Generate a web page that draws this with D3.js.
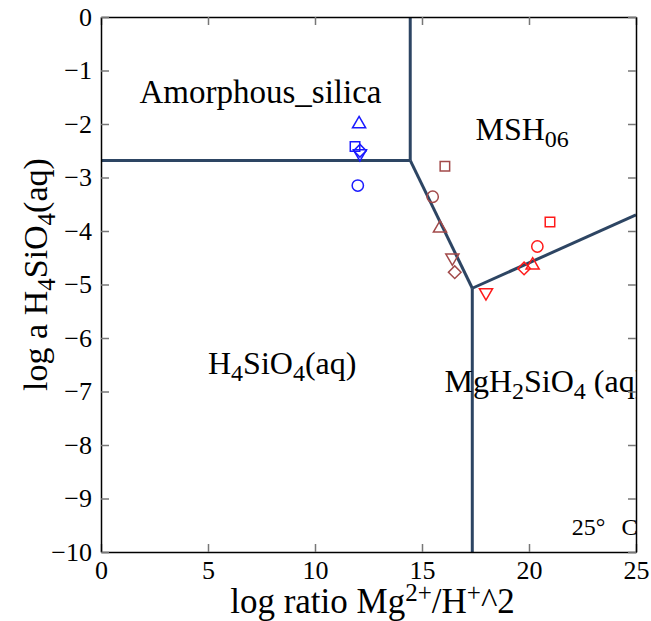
<!DOCTYPE html>
<html lang="en">
<head>
<meta charset="UTF-8">
<script src="https://d3js.org/d3.v7.min.js"></script>
<title>Mg-Si diagram</title>
<style>
  body { margin: 0; background: #fff; }
</style>
</head>
<body>
<div id="chart"></div>
<script>
const width = 651, height = 621;
const margin = { top: 17, right: 15, bottom: 69, left: 101 };
const w = width - margin.left - margin.right, h = height - margin.top - margin.bottom;
const serif = "Liberation Serif";

// field boundaries [x, y]
const boundaries = [
  [[14.45, 0], [14.45, -2.68]],
  [[0, -2.68], [14.45, -2.68]],
  [[14.45, -2.68], [17.35, -5.07]],
  [[17.35, -5.07], [17.35, -10]],
  [[17.35, -5.07], [25, -3.7]]
];

// sample points
const blue = [
  { x: 12.06, y: -2.0, s: "triUp" },
  { x: 11.87, y: -2.42, s: "square" },
  { x: 12.1, y: -2.5, s: "diamond" },
  { x: 12.1, y: -2.55, s: "triDown" },
  { x: 12.0, y: -3.15, s: "circle" }
];
const brown = [
  { x: 16.07, y: -2.79, s: "square" },
  { x: 15.5, y: -3.36, s: "circle" },
  { x: 15.84, y: -3.95, s: "triUp" },
  { x: 16.42, y: -4.5, s: "triDown" },
  { x: 16.53, y: -4.77, s: "diamond" }
];
const red = [
  { x: 20.98, y: -3.83, s: "square" },
  { x: 20.39, y: -4.29, s: "circle" },
  { x: 20.17, y: -4.64, s: "triUp" },
  { x: 19.77, y: -4.7, s: "diamond" },
  { x: 17.99, y: -5.15, s: "triDown" }
];

const xTicks = [0, 5, 10, 15, 20, 25];
const yTicks = [0, -1, -2, -3, -4, -5, -6, -7, -8, -9, -10];

const x = d3.scaleLinear().domain([0, 25]).range([0, w]);
const y = d3.scaleLinear().domain([-10, 0]).range([h, 0]);

const svg = d3.select("#chart").append("svg")
  .attr("width", width).attr("height", height);
const g = svg.append("g").attr("transform", `translate(${margin.left},${margin.top})`);

svg.append("defs").append("clipPath").attr("id", "clip")
  .append("rect").attr("width", w).attr("height", h);

const plot = g.append("g").attr("clip-path", "url(#clip)");

// axes, ticks inward on all sides
const fmt = d => d < 0 ? "\u2212" + Math.abs(d) : d;
const ax = (axis) => axis.tickSizeInner(-8).tickSizeOuter(0).tickPadding(9);
const axes = [
  g.append("g").attr("transform", `translate(0,${h})`)
    .call(ax(d3.axisBottom(x).tickValues(xTicks).tickFormat(fmt))),
  g.append("g").call(ax(d3.axisTop(x).tickValues(xTicks).tickFormat(""))),
  g.append("g").call(ax(d3.axisLeft(y).tickValues(yTicks).tickFormat(fmt))),
  g.append("g").attr("transform", `translate(${w},0)`)
    .call(ax(d3.axisRight(y).tickValues(yTicks).tickFormat("")))
];
axes.forEach(a => {
  a.attr("font-family", serif).attr("font-size", 26);
  a.selectAll("line").attr("stroke", "#777").attr("stroke-width", 1.5);
  a.select(".domain").attr("stroke", "#000").attr("stroke-width", 1.5);
  a.selectAll("text").attr("fill", "#000");
});

// boundary lines
const line = d3.line().x(d => x(d[0])).y(d => y(d[1]));
plot.selectAll("path.bd").data(boundaries).enter().append("path")
  .attr("class", "bd").attr("d", line)
  .attr("fill", "none").attr("stroke", "#2d4563").attr("stroke-width", 3);

// markers
const sym = {
  triUp: d3.symbolTriangle, triDown: d3.symbolTriangle,
  square: d3.symbolSquare, diamond: d3.symbolSquare, circle: d3.symbolCircle
};
const size = { triUp: 75, triDown: 75, square: 90, diamond: 80, circle: 100 };
const rot = { triUp: 0, triDown: 180, square: 0, diamond: 45, circle: 0 };
function drawPts(data, color) {
  plot.append("g").selectAll("path").data(data).enter().append("path")
    .attr("d", d => d3.symbol(sym[d.s], size[d.s])())
    .attr("transform", d => `translate(${x(d.x)},${y(d.y)}) rotate(${rot[d.s]})`)
    .attr("fill", "none").attr("stroke", color).attr("stroke-width", 1.5);
}
drawPts(blue, "#1a1aff");
drawPts(brown, "#a24a4a");
drawPts(red, "#ff1a1a");

// field labels
function label(px, py, parts, fs) {
  const t = plot.append("text").attr("x", px).attr("y", py)
    .attr("font-size", fs).attr("font-family", serif);
  parts.forEach(p => {
    const ts = t.append("tspan").text(p[0]);
    if (p[1] === "sub") ts.attr("baseline-shift", "-30%").attr("font-size", fs * 0.75);
    if (p[1] === "gap") ts.attr("dx", 16);
  });
}
label(x(1.8), y(-1.6), [["Amorphous_silica"]], 33);
label(x(17.5), y(-2.3), [["MSH"], ["06", "sub"]], 32);
label(x(5), y(-6.68), [["H"], ["4", "sub"], ["SiO"], ["4", "sub"], ["(aq)"]], 32);
label(x(16.05), y(-7.0), [["MgH"], ["2", "sub"], ["SiO"], ["4", "sub"], [" (aq)"]], 32);
label(x(22.0), y(-9.68), [["25°"], ["C", "gap"]], 24);

// axis titles
const xt = svg.append("text").attr("x", margin.left + w / 2 + 4).attr("y", 613)
  .attr("text-anchor", "middle").attr("font-size", 35).attr("font-family", serif);
xt.append("tspan").text("log ratio Mg");
xt.append("tspan").text("2+").attr("baseline-shift", "48%").attr("font-size", 25);
xt.append("tspan").text("/H");
xt.append("tspan").text("+").attr("baseline-shift", "48%").attr("font-size", 25);
xt.append("tspan").text("^2");

const yt = svg.append("text")
  .attr("transform", `translate(47,${margin.top + h / 2 - 10}) rotate(-90)`)
  .attr("text-anchor", "middle").attr("font-size", 34).attr("font-family", serif);
yt.append("tspan").text("log a H");
yt.append("tspan").text("4").attr("baseline-shift", "-30%").attr("font-size", 25);
yt.append("tspan").text("SiO");
yt.append("tspan").text("4").attr("baseline-shift", "-30%").attr("font-size", 25);
yt.append("tspan").text("(aq)");
</script>
</body>
</html>
